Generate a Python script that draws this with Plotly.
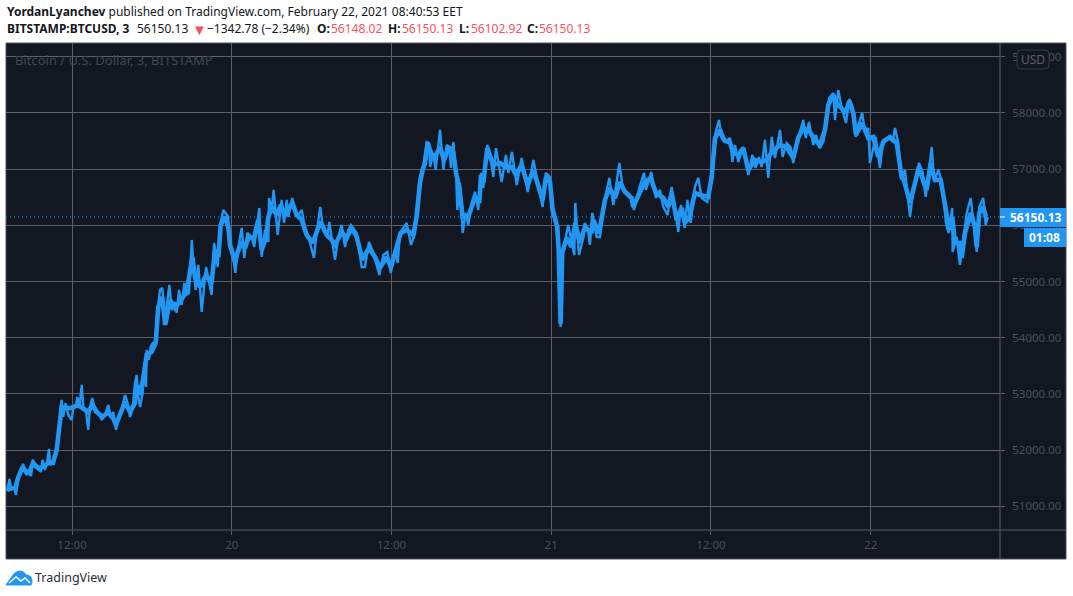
import plotly.graph_objects as go

W, H = 1073, 596
PLOT_L, PLOT_R, PLOT_T, PLOT_B = 6, 1000, 43, 530
PANEL_R, PANEL_B = 1066, 559

# Hours since 2021-02-19 00:00 and the sharp BTC/USD moves at those times
hours = [
    7.12, 7.30, 7.45, 7.64, 7.79, 7.94, 8.17, 8.32, 8.54, 8.77, 8.92, 9.07, 9.22, 9.44, 9.67, 9.78,
    9.97, 10.12, 10.27, 10.35, 10.57, 10.80, 10.95, 11.10, 11.22, 11.34, 11.52, 11.72, 11.98, 12.10,
    12.30, 12.40, 12.55, 12.73, 12.85, 13.05, 13.22, 13.35, 13.52, 13.73, 13.97, 14.23, 14.48, 14.73,
    14.91, 15.10, 15.30, 15.51, 15.73, 15.98, 16.15, 16.36, 16.56, 16.73, 16.86, 16.98, 17.11, 17.31,
    17.41, 17.56, 17.61, 17.78, 17.91, 18.11, 18.23, 18.36, 18.61, 18.78, 18.99, 19.31, 19.49, 19.74,
    19.86, 20.04, 20.24, 20.44, 20.62, 20.79, 21.00, 21.11, 21.29, 21.49, 21.74, 22.07, 22.29, 22.49,
    22.67, 22.80, 22.95, 23.12, 23.37, 23.74, 23.82, 24.07, 24.27, 24.42, 24.75, 24.94, 25.17, 25.50,
    25.69, 26.07, 26.25, 26.50, 26.75, 26.80, 27.00, 27.15, 27.45, 27.75, 27.93, 28.13, 28.25, 28.55,
    28.83, 29.00, 29.26, 29.50, 29.88, 30.18, 30.38, 30.65, 30.87, 31.18, 31.33, 31.76, 32.01, 32.26,
    32.51, 32.76, 32.96, 33.39, 33.76, 34.01, 34.31, 34.64, 35.09, 35.39, 35.69, 35.95, 36.27, 36.47,
    36.64, 37.14, 37.47, 37.77, 37.94, 38.14, 38.39, 38.65, 38.82, 38.90, 39.14, 39.32, 39.65, 39.90,
    40.15, 40.34, 40.47, 40.65, 40.85, 40.95, 41.15, 41.35, 41.58, 41.77, 42.03, 42.28, 42.52, 42.73,
    42.90, 43.20, 43.40, 43.65, 43.85, 44.28, 44.60, 44.78, 45.05, 45.41, 45.78, 46.24, 46.66, 46.91,
    47.36, 47.59, 47.91, 48.04, 48.36, 48.53, 48.71, 48.86, 49.28, 49.74, 49.81, 50.09, 50.41, 50.54,
    50.79, 50.91, 51.09, 51.42, 51.67, 52.04, 52.37, 52.67, 53.12, 53.38, 53.92, 54.22, 54.62, 54.97,
    55.12, 55.52, 55.87, 56.17, 56.42, 56.75, 57.05, 57.55, 57.75, 58.03, 58.23, 58.48, 58.80, 59.05,
    59.31, 59.73, 59.98, 60.18, 60.36, 60.61, 60.81, 61.06, 61.44, 61.61, 61.81, 62.06, 62.43, 62.81,
    63.11, 63.36, 63.61, 63.81, 64.06, 64.31, 64.57, 64.82, 65.19, 65.39, 65.69, 65.99, 66.19, 66.44,
    66.94, 67.12, 67.37, 67.69, 67.89, 68.14, 68.44, 68.70, 68.87, 69.20, 69.32, 69.57, 69.83, 70.15,
    70.40, 70.65, 70.88, 71.07, 71.37, 71.57, 71.82, 71.95, 72.38, 72.70, 72.95, 73.33, 73.66, 73.83,
    74.08, 74.33, 74.58, 74.96, 75.21, 75.63, 75.91, 76.14, 76.41, 76.59, 76.78, 77.08, 77.38, 77.66,
    77.86, 78.13, 78.16, 78.46, 78.71, 78.96, 79.22, 79.52, 79.97, 80.16, 80.46, 80.64, 80.81,
]
closes = [
    51275, 51489, 51293, 51347, 51204, 51471, 51613, 51756, 51596, 51578, 51542, 51827, 51702, 51667, 51613, 51827,
    51649, 51773, 52023, 51738, 51773, 51951, 52183, 52538, 52894, 52592, 52841, 52627, 52538, 52770,
    52805, 52948, 52752, 53161, 52752, 52681, 52361, 52770, 52930, 52681, 52681, 52538, 52627, 52805,
    52574, 52681, 52361, 52574, 52716, 52983, 52859, 52592, 52752, 53197, 53339, 52948, 52770, 53019,
    53481, 53126, 53784, 53606, 53837, 53926, 53819, 54353, 54851, 54887, 54317, 54940, 54495, 54638,
    54442, 54851, 54584, 54976, 54762, 54798, 55741, 55331, 54851, 55296, 54460, 55260, 54976, 54762,
    55687, 55527, 55260, 56008, 56274, 56150, 55687, 55509, 55154, 55509, 55954, 55420, 55865, 55794,
    55616, 56310, 55438, 55919, 55705, 56488, 56274, 56630, 55830, 56452, 56043, 56452, 56150, 56488,
    56221, 56185, 56274, 55954, 55687, 55420, 55865, 56328, 55919, 55794, 56061, 55385, 55794, 56008,
    55616, 55919, 56008, 55865, 55260, 55260, 55705, 55509, 55118, 55474, 55527, 55154, 55563, 55331,
    55865, 56043, 55652, 55865, 56399, 56861, 57039, 57484, 57466, 57039, 57288, 56986, 57698, 56986,
    57431, 57395, 57022, 57484, 56933, 56274, 56755, 55865, 56221, 56008, 56399, 56595, 56274, 56933,
    56666, 57431, 57288, 56861, 57377, 56772, 57253, 56933, 57306, 56719, 57199, 56595, 57164, 56861,
    56328, 56933, 56861, 56274, 56008, 55616, 54193, 55509, 56008, 55474, 56399, 55474, 55776, 56043,
    55865, 55652, 56221, 55794, 55794, 56488, 56844, 56363, 57110, 56666, 56541, 56274, 56666, 56933,
    56630, 56950, 56488, 56630, 56328, 56185, 56684, 55883, 56363, 55954, 56452, 56043, 56684, 56844,
    56488, 56417, 56808, 57288, 57662, 57875, 57555, 57484, 57555, 57128, 57431, 57128, 57395, 56897,
    57253, 57022, 57217, 57039, 57520, 56844, 57573, 57199, 57698, 57217, 57466, 57395, 57110, 57466,
    57875, 57555, 57840, 57431, 57609, 57377, 57484, 57840, 58267, 58356, 57875, 58409, 58089, 57822,
    58249, 58089, 57573, 57787, 58000, 57644, 57733, 57110, 57573, 57022, 57520, 57573, 57484, 57733,
    57466, 56808, 56986, 56150, 56630, 57110, 56950, 56506, 57075, 57395, 56772, 56986, 56755, 56043,
    55865, 56310, 55527, 55794, 55296, 55794, 56221, 56488, 55527, 56328, 56488, 56008, 56150.13,
]

# The heavy core the price line keeps to between those moves
core_hours = [
    7.12, 7.47, 7.77, 7.94, 8.29, 8.60, 8.84, 9.07, 9.44, 9.82, 10.20, 10.57, 10.85, 11.02, 11.22, 11.52,
    11.98, 12.45, 12.83, 13.20, 13.55, 13.85, 14.30, 14.70, 15.08, 15.30, 15.60, 15.98, 16.36, 16.73,
    16.88, 17.11, 17.33, 17.61, 17.98, 18.29, 18.48, 18.78, 19.00, 19.36, 19.74, 20.24, 20.62, 21.04,
    21.24, 21.62, 22.07, 22.49, 22.74, 23.00, 23.17, 23.49, 23.74, 23.87, 24.27, 24.42, 24.75, 25.00,
    25.24, 25.67, 25.99, 26.25, 26.57, 26.75, 27.00, 27.38, 27.68, 28.00, 28.55, 28.88, 29.26, 29.63,
    30.08, 30.38, 30.68, 31.13, 31.51, 31.76, 32.26, 32.64, 33.01, 33.39, 33.81, 34.31, 34.76, 35.14,
    35.64, 35.97, 36.27, 36.69, 37.14, 37.64, 37.89, 38.14, 38.34, 38.52, 38.72, 39.14, 39.65, 39.95,
    40.34, 40.65, 40.85, 41.10, 41.35, 41.77, 42.28, 42.60, 42.73, 42.90, 43.20, 43.65, 44.15, 44.60,
    45.03, 45.36, 45.78, 46.24, 46.66, 47.03, 47.36, 47.61, 47.91, 48.11, 48.46, 48.56, 48.71, 48.83,
    49.16, 49.53, 49.81, 50.16, 50.54, 51.04, 51.16, 51.59, 52.04, 52.37, 52.79, 53.17, 53.54, 54.04,
    54.17, 54.67, 55.05, 55.48, 55.87, 56.42, 56.80, 57.05, 57.43, 57.80, 58.05, 58.38, 58.80, 59.18,
    59.80, 60.06, 60.31, 60.68, 60.98, 61.44, 61.68, 62.06, 62.43, 62.81, 63.31, 63.81, 64.19, 64.57,
    65.19, 65.69, 66.19, 66.56, 66.94, 67.44, 67.82, 68.19, 68.57, 68.82, 69.20, 69.45, 69.83, 70.13,
    70.40, 70.70, 70.90, 71.37, 71.82, 72.20, 72.57, 72.95, 73.45, 73.96, 74.33, 74.50, 74.96, 75.21,
    75.63, 76.00, 76.21, 76.51, 76.83, 77.26, 77.59, 77.92, 78.13, 78.34, 78.76, 78.84, 79.09, 79.52,
    79.84, 79.97, 80.16, 80.46, 80.66,
]
core_prices = [
    51293, 51329, 51347, 51507, 51702, 51596, 51631, 51773, 51685, 51702, 51773, 51773, 52005, 52361, 52770, 52752,
    52752, 52805, 52752, 52681, 52805, 52681, 52592, 52681, 52574, 52450, 52627, 52859, 52681, 52841,
    53161, 52983, 53250, 53695, 53748, 53908, 54549, 54727, 54229, 54673, 54531, 54709, 54816, 55438,
    55082, 54905, 55118, 54976, 55563, 55438, 56008, 56150, 55972, 55652, 55331, 55509, 55705, 55598,
    55776, 55776, 56096, 55563, 55794, 56150, 56328, 56185, 56363, 56185, 56399, 56185, 56096, 55830,
    55687, 55883, 56061, 55830, 55741, 55652, 55883, 55776, 55954, 55794, 55385, 55598, 55438, 55243,
    55438, 55260, 55509, 55865, 55919, 55830, 56150, 56755, 56986, 57110, 57466, 57164, 57395, 57164,
    57395, 57288, 56933, 56666, 56150, 56150, 56506, 56399, 56897, 56755, 57377, 57075, 57110, 57039,
    57039, 56897, 57075, 56719, 56986, 56719, 56452, 56861, 56772, 56274, 55972, 55563, 54250, 55509,
    55776, 55616, 56043, 55687, 55972, 55865, 56096, 55865, 56452, 56666, 56488, 56772, 56595, 56488,
    56328, 56595, 56772, 56844, 56577, 56488, 56328, 56577, 56096, 56310, 56043, 56150, 56577, 56541,
    56506, 56861, 57555, 57698, 57520, 57466, 57288, 57253, 57377, 56986, 57164, 57128, 57164, 57306,
    57431, 57395, 57199, 57555, 57733, 57662, 57520, 57431, 57698, 58142, 58320, 58178, 58089, 58000,
    58213, 58000, 57609, 57822, 57555, 57573, 57217, 57484, 57573, 57466, 56861, 56808, 56399, 56666,
    57039, 56755, 56630, 57110, 56808, 56808, 56363, 55919, 56150, 55687, 55687, 55420, 55865, 56221,
    55972, 55616, 56221, 56328, 56150,
]

price_ticks = [51000, 52000, 53000, 54000, 55000, 56000, 57000, 58000, 59000]
price_labels = ["51000.00", "52000.00", "53000.00", "54000.00", "55000.00", "56000.00",
                "57000.00", "58000.00", "59000.00"]
time_ticks = [12, 24, 36, 48, 60, 72]
time_labels = ["12:00", "20", "12:00", "21", "12:00", "22"]
last_price = closes[-1]
countdown = "01:08"

BG = "#131722"
GRID = "#5d5f69"
BORDER = "#50535e"
MUTED = "#4b4f5b"
BLUE = "#2196f3"
RED = "#f7525f"
FONT = "Noto Sans"


def fx(px):
    return (px - PLOT_L) / (PLOT_R - PLOT_L)


def fy(px):
    return (PLOT_B - px) / (PLOT_B - PLOT_T)


def panel_rect(x0, y0, x1, y1, **kw):
    return dict(type="rect", xref="paper", yref="paper",
                x0=fx(x0), x1=fx(x1), y0=fy(y1), y1=fy(y0), **kw)


def label(text, px, py, size=12, color="#131722", xanchor="left", yanchor="middle"):
    return dict(text=text, x=fx(px), y=fy(py), xref="paper", yref="paper", showarrow=False,
                xanchor=xanchor, yanchor=yanchor, align="left", borderpad=0,
                font=dict(family=FONT, size=size, color=color))


fig = go.Figure()
fig.add_trace(go.Scatter(x=hours, y=closes, mode="lines", hoverinfo="skip",
                         line=dict(color=BLUE, width=2.4)))
fig.add_trace(go.Scatter(x=core_hours, y=core_prices, mode="lines", hoverinfo="skip",
                         line=dict(color=BLUE, width=4.6)))

shapes = [
    # dark panel with its frame, reaching past the plot area to hold the axis labels
    panel_rect(PLOT_L, PLOT_T, PANEL_R, PANEL_B, fillcolor=BG, line=dict(color=BORDER, width=1), layer="below"),
    # last-price dotted line
    dict(type="line", xref="paper", yref="y", x0=0, x1=1, y0=last_price, y1=last_price,
         line=dict(color=BLUE, width=1, dash="1px,3px"), layer="above"),
    # axis separators
    dict(type="line", xref="paper", yref="paper", x0=1, x1=1, y0=fy(PANEL_B), y1=fy(PLOT_T),
         line=dict(color=GRID, width=1), layer="above"),
    dict(type="line", xref="paper", yref="paper", x0=0, x1=fx(PANEL_R), y0=0, y1=0,
         line=dict(color=GRID, width=1), layer="above"),
    # price and countdown tags
    panel_rect(1000, 208, 1066, 227, fillcolor=BLUE, line=dict(width=0), layer="above"),
    panel_rect(1024, 228, 1066, 247, fillcolor=BLUE, line=dict(width=0), layer="above"),
    dict(type="line", xref="paper", yref="y", x0=1, x1=fx(1005), y0=last_price, y1=last_price,
         line=dict(color="#ffffff", width=1), layer="above"),
    # currency button
    dict(type="path", xref="paper", yref="paper", xsizemode="pixel", ysizemode="pixel",
         xanchor=fx(1017), yanchor=fy(50),
         path="M4,0 H28 Q32,0 32,-4 V-15 Q32,-19 28,-19 H4 Q0,-19 0,-15 V-4 Q0,0 4,0 Z",
         fillcolor=BG, line=dict(color="#363a45", width=1), layer="above"),
    # logo cloud
    dict(type="path", xref="paper", yref="paper", xsizemode="pixel", ysizemode="pixel",
         xanchor=fx(6), yanchor=fy(570),
         path="M0,-15 L5,-8 Q9,-1 14,-1 Q18,-1 20,-5 Q26,-5 26,-11 Q26,-14 25,-15 Z",
         fillcolor=BLUE, line=dict(color=BLUE, width=1), layer="above"),
    dict(type="path", xref="paper", yref="paper", xsizemode="pixel", ysizemode="pixel",
         xanchor=fx(6), yanchor=fy(570),
         path="M3,-13 L10,-7 L15,-11 L19,-8 L24,-13",
         line=dict(color="#ffffff", width=1.4), layer="above"),
]

annotations = [
    label("<b>YordanLyanchev</b> published on TradingView.com, February 22, 2021 08:40:53 EET", 6, 12),
    # second header row: symbol, last price, change and OHLC readout
    label("<b>BITSTAMP:BTCUSD, 3</b>", 6, 29),
    label("56150.13", 136, 29),
    label("▼", 191, 29, size=15, color=RED),
    label("−1342.78 (−2.34%)", 206, 29),
    label("<b>O:</b>", 316, 29),
    label("56148.02", 330, 29, color=RED),
    label("<b>H:</b>", 387, 29),
    label("56150.13", 401, 29, color=RED),
    label("<b>L:</b>", 458, 29),
    label("56102.92", 470, 29, color=RED),
    label("<b>C:</b>", 526, 29),
    label("56150.13", 538, 29, color=RED),
    label("Bitcoin / U.S. Dollar, 3, BITSTAMP", 14, 60, size=13, color="#434651"),
    label("USD", 1033, 59, color="#5d606b", xanchor="center"),
    label(f"<b>{last_price:.2f}</b>", 1009, 217.5, color="#ffffff"),
    label(f"<b>{countdown}</b>", 1028, 237.5, color="#ffffff"),
    label("TradingView", 34, 577, size=12.5, color="#2a2e39"),
]

fig.update_layout(
    width=W, height=H, autosize=False,
    margin=dict(l=PLOT_L, r=W - PLOT_R, t=PLOT_T, b=H - PLOT_B, pad=0),
    paper_bgcolor="#ffffff", plot_bgcolor=BG, showlegend=False,
    shapes=shapes, annotations=annotations,
    font=dict(family=FONT, size=12, color=MUTED),
    xaxis=dict(range=[7.04, 81.72], tickmode="array", tickvals=time_ticks, ticktext=time_labels,
               showgrid=True, gridcolor=GRID, gridwidth=1, zeroline=False, showline=False,
               ticks="outside", ticklen=4, tickcolor=GRID, tickfont=dict(color=MUTED, size=11.5)),
    yaxis=dict(range=[50580, 59245], side="right", tickmode="array", tickvals=price_ticks, ticktext=price_labels,
               showgrid=True, gridcolor=GRID, gridwidth=1, zeroline=False, showline=False,
               ticks="outside", ticklen=4, tickcolor=GRID, tickfont=dict(color=MUTED, size=11.5),
               ticklabelstandoff=5),
)

fig.write_html("out.html", config=dict(displayModeBar=False))
